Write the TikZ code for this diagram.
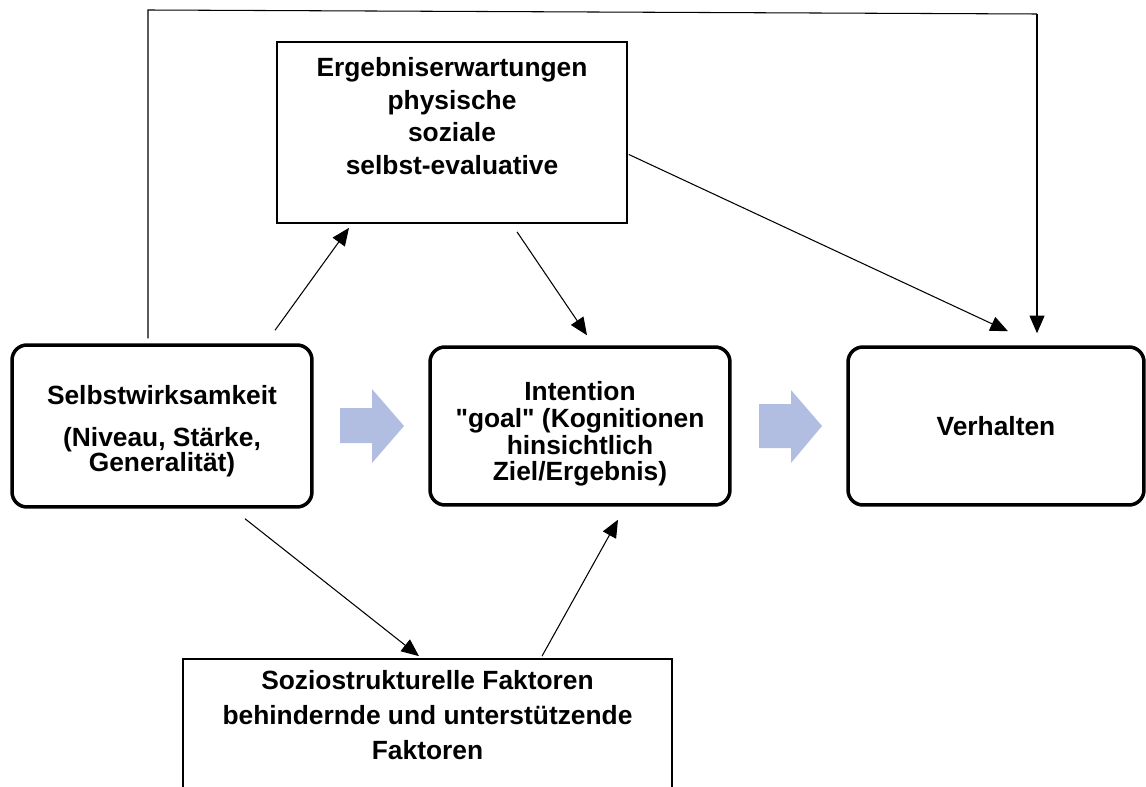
\documentclass[tikz,border=0pt]{standalone}
\usepackage{fontspec}
\setmainfont{Liberation Sans}
\usetikzlibrary{arrows.meta,calc,positioning}
\definecolor{arrowblue}{RGB}{177,190,226}
\newcommand{\boxfont}[1]{\fontsize{15}{#1}\selectfont\bfseries\lineskiplimit=-20pt}

\begin{document}
\begin{tikzpicture}[x=0.02cm,y=-0.02cm,
  rbox/.style={draw, line width=2pt, rounded corners=8.5pt, inner sep=0pt},
  pbox/.style={draw, line width=1pt, inner sep=0pt},
  txt/.style={align=center, inner sep=0pt},
  link/.style={line width=0.6pt, -{Triangle[length=10pt,width=8.5pt]}}]
\useasboundingbox (0,0) rectangle (1146,787);
\clip (0,0) rectangle (1146,787);

% boxes
\node[rbox, minimum width=6cm, minimum height=3.24cm] (selbst) at (162,426) {};
\node[rbox, minimum width=6cm, minimum height=3.16cm] (inten) at (580,426) {};
\node[rbox, minimum width=5.92cm, minimum height=3.16cm] (verh) at (996,426) {};
\node[pbox, minimum width=7cm, minimum height=3.62cm] (erg) at (452,132.5) {};
\node[pbox, minimum width=9.78cm, minimum height=2.84cm] (sozio) at (427.5,730) {};

% texts
\node[txt, font=\boxfont{14.2pt}, anchor=north] (selbsttxt) at (162,385)
  {Selbstwirksamkeit\\[9.6pt] (Niveau, Stärke,\\ Generalität)};
\node[txt, font=\boxfont{15.1pt}, anchor=north] (inttxt) at (580,381.5)
  {Intention\\ \textquotedbl goal\textquotedbl{} (Kognitionen\\ hinsichtlich\\ Ziel/Ergebnis)};
\node[txt, font=\boxfont{15pt}, anchor=base] (verhtxt) at (996,435) {Verhalten};
\node[txt, font=\boxfont{18.7pt}, below=8.9pt of erg.north] (ergtxt)
  {Ergebniserwartungen\\ physische\\ soziale\\ selbst-evaluative};
\node[txt, font=\boxfont{19.8pt}, below=7pt of sozio.north] (soziotxt)
  {Soziostrukturelle Faktoren\\ behindernde und unterstützende\\ Faktoren};

% block arrows
\fill[arrowblue] (340,408) -- (372,408) -- (372,389) -- (404,426) -- (372,463)
  -- (372,443) -- (340,443) -- cycle;
\fill[arrowblue] (759,404) -- (791,404) -- (791,390) -- (822,426) -- (791,463)
  -- (791,448) -- (759,448) -- cycle;

% connectors
\coordinate (tl) at (148,10);
\coordinate (tr) at (1037,14);
\draw[line width=0.6pt] ($(selbst.north)+(-14,-5)$) -- (tl) -- (tr);
\draw[link] (tr) -- ($(verh.north)+(41,-12)$);
\draw[link] ($(selbst.north)+(113,-13)$) -- ($(erg.south)+(-103,4)$);
\draw[link] ($(erg.south)+(65,8)$) -- ($(inten.north)+(7,-10)$);
\draw[link] ($(erg.east)+(1,22)$) -- ($(verh.north)+(12,-14)$);
\draw[link] ($(selbst.south)+(83,10)$) -- ($(sozio.north)+(-8.5,-2)$);
\draw[link] ($(sozio.north)+(114.5,-2)$) -- ($(inten.south)+(38,13)$);
\end{tikzpicture}
\end{document}
